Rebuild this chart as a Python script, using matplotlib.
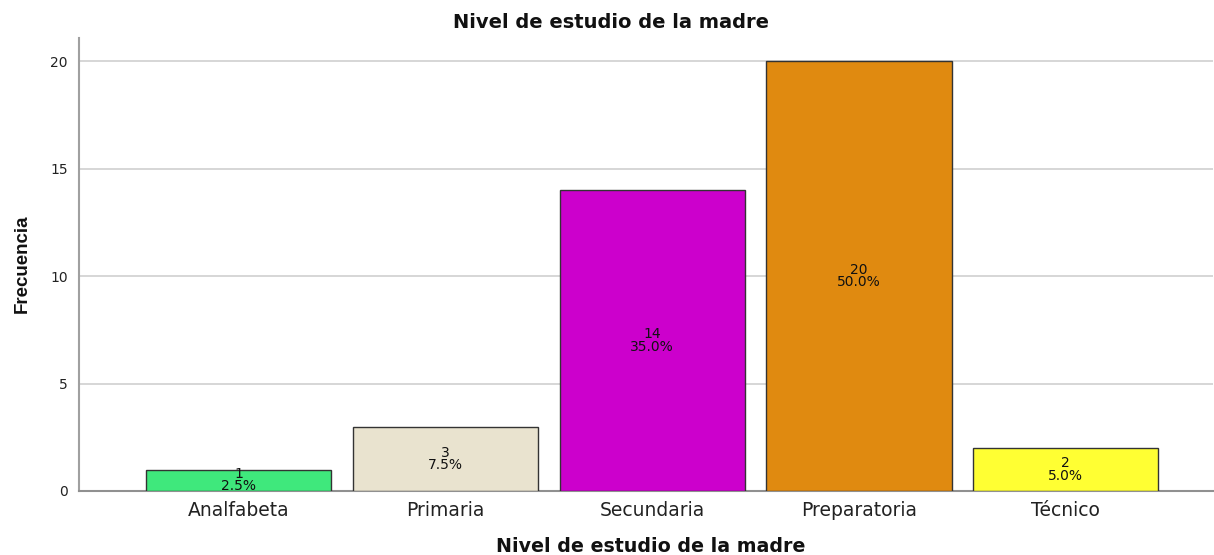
import matplotlib
matplotlib.use("Agg")
import matplotlib.pyplot as plt
from matplotlib import font_manager

categories = ["Analfabeta", "Primaria", "Secundaria", "Preparatoria", "Técnico"]
counts = [1, 3, 14, 20, 2]
percents = ["2.5%", "7.5%", "35.0%", "50.0%", "5.0%"]
colors = ["#3fe87c", "#e9e3cf", "#cc00cc", "#e08a10", "#ffff33"]
yticks = [0, 5, 10, 15, 20]

names = {f.name for f in font_manager.fontManager.ttflist}
base = "Liberation Sans" if "Liberation Sans" in names else "DejaVu Sans"
narrow = "Liberation Sans Narrow" if "Liberation Sans Narrow" in names else base
wide = "DejaVu Sans"
plt.rcParams['font.family'] = [wide, 'DejaVu Sans']

fig = plt.figure(figsize=(12.14, 5.55), dpi=100)
ax = fig.add_axes([79/1214, 1 - 491/555, (1213-79)/1214, (491-38)/555])

x = list(range(len(categories)))
ax.bar(x, counts, width=0.896, color=colors, edgecolor="#333333", linewidth=1.0, zorder=3)
for xi, c, p in zip(x, counts, percents):
    ax.text(xi, c / 2, f"{c}\n{p}", ha="center", va="center", fontsize=10,
            linespacing=0.85, color="#111111", zorder=4)

ax.set_xlim(-0.773, 4.713)
ax.set_ylim(0, 21.07)
ax.set_yticks(yticks)
ax.set_xticks(x)
ax.set_xticklabels(categories, fontsize=13.5, color="#222222")
ax.tick_params(axis="y", length=0, labelsize=10, pad=8, colors="#222222")
ax.tick_params(axis="x", length=0, pad=7)
ax.grid(axis="y", color="#cfcfcf", linewidth=1.2, zorder=0)
for s in ["top", "right"]:
    ax.spines[s].set_visible(False)
ax.spines["left"].set_color("#a0a0a0")
ax.spines["left"].set_linewidth(1.5)
ax.spines["bottom"].set_color("#909090")
ax.spines["bottom"].set_linewidth(1.5)

fig.text(611/1214, 1 - 22/555, "Nivel de estudio de la madre", ha="center", va="center",
         fontsize=14, fontweight="bold", color="#111111")
fig.text(651/1214, 1 - 546/555, "Nivel de estudio de la madre", ha="center", va="center",
         fontsize=13.7, fontweight="bold", color="#111111")
fig.text(22/1214, 1 - 264/555, "Frecuencia", ha="center", va="center", rotation=90,
         fontsize=13.5, fontweight="bold", family=[narrow, 'DejaVu Sans'], color="#111111")

fig.savefig("out.png", dpi=100, facecolor="white")
